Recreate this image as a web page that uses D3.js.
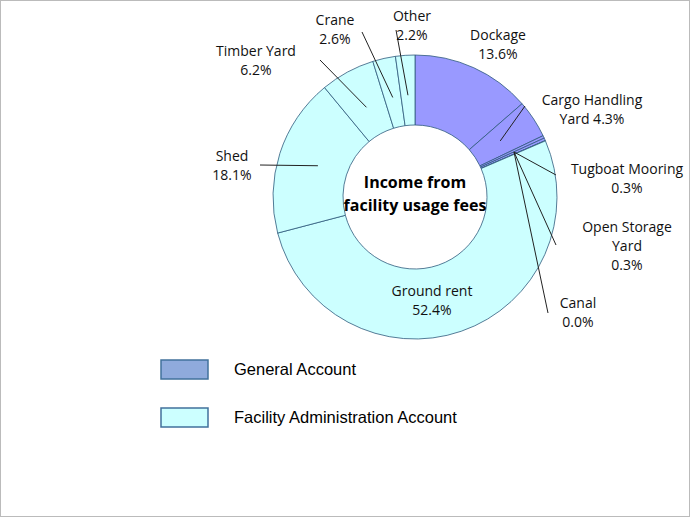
<!DOCTYPE html>
<html><head><meta charset="utf-8">
<script src="https://cdn.jsdelivr.net/npm/d3@7"></script>
<style>body{margin:0;background:#fff}text{font-family:"Open Sans",sans-serif}</style>
</head><body>
<svg id="c" width="690" height="517"></svg>
<script>
// slice data, clockwise from 12 o'clock
var names = ["Dockage","Cargo Handling Yard","Tugboat Mooring","Open Storage Yard","Canal","Ground rent","Shed","Timber Yard","Crane","Other"];
var values = [13.6,4.3,0.3,0.3,0.04,52.4,18.1,6.2,2.6,2.2];
var shown = ["13.6%","4.3%","0.3%","0.3%","0.0%","52.4%","18.1%","6.2%","2.6%","2.2%"];
var account = ["G","G","G","G","G","F","F","F","F","F"];
// label text lines and anchor, plus leader line endpoints
var labels = [
  {l:["Dockage","13.6%"], x:498, y:40},
  {l:["Cargo Handling","Yard 4.3%"], x:592, y:105},
  {l:["Tugboat Mooring","0.3%"], x:627, y:174},
  {l:["Open Storage","Yard","0.3%"], x:627, y:232},
  {l:["Canal","0.0%"], x:578, y:308},
  {l:["Ground rent","52.4%"], x:432, y:296},
  {l:["Shed","18.1%"], x:232, y:161},
  {l:["Timber Yard","6.2%"], x:256, y:56},
  {l:["Crane","2.6%"], x:335, y:25},
  {l:["Other","2.2%"], x:412, y:21}
];
var leaders = [null,[525,106],[556,175],[556,245],[548,313],null,[260,165],[320,60],[362,32],[396,30]];

var svg = d3.select("#c");
svg.append("rect").attr("x",0.5).attr("y",0.5).attr("width",689).attr("height",516)
  .attr("fill","none").attr("stroke","#bbb");

var cx = 415, cy = 197, R = 142, r0 = 72;
var fill = {G:"#9999ff", F:"#ccffff"};
var pie = d3.pie().sort(null).value(function(d){return d;});
var arcs = pie(values);
var arc = d3.arc().innerRadius(r0).outerRadius(R);
var g = svg.append("g").attr("transform","translate("+cx+","+cy+")");
g.selectAll("path").data(arcs).enter().append("path")
  .attr("d",arc)
  .attr("fill",function(d,i){return fill[account[i]];})
  .attr("stroke","#2f5b7c").attr("stroke-width",0.8);

// leader lines
var inner = d3.arc().innerRadius(r0+30).outerRadius(r0+30);
arcs.forEach(function(d,i){
  if(!leaders[i]) return;
  var p = inner.centroid(d);
  if(i>=2 && i<=4) p = [99,-45];
  g.append("line").attr("x1",p[0]).attr("y1",p[1])
    .attr("x2",leaders[i][0]-cx).attr("y2",leaders[i][1]-cy)
    .attr("stroke","#222").attr("stroke-width",1);
});

labels.forEach(function(L){
  var t = svg.append("text").attr("text-anchor","middle").attr("font-size",14).attr("fill","#111");
  L.l.forEach(function(s,k){
    t.append("tspan").attr("x",L.x).attr("y",L.y+k*19).text(s);
  });
});

svg.append("text").attr("x",cx).attr("y",cy-9).attr("text-anchor","middle")
  .attr("font-size",16).attr("font-weight","bold").text("Income from");
svg.append("text").attr("x",cx).attr("y",cy+14).attr("text-anchor","middle")
  .attr("font-size",16).attr("font-weight","bold").text("facility usage fees");

// legend
var legend = [["General Account","#8faadc"],["Facility Administration Account","#ccffff"]];
legend.forEach(function(d,i){
  var y = 360+i*48;
  svg.append("rect").attr("x",161).attr("y",y).attr("width",47).attr("height",19)
    .attr("fill",d[1]).attr("stroke","#41719c").attr("stroke-width",1.5);
  svg.append("text").attr("x",234).attr("y",y+15).attr("font-size",16.5)
    .style("font-family","Liberation Sans, Arial, sans-serif").text(d[0]);
});
</script>
</body></html>
